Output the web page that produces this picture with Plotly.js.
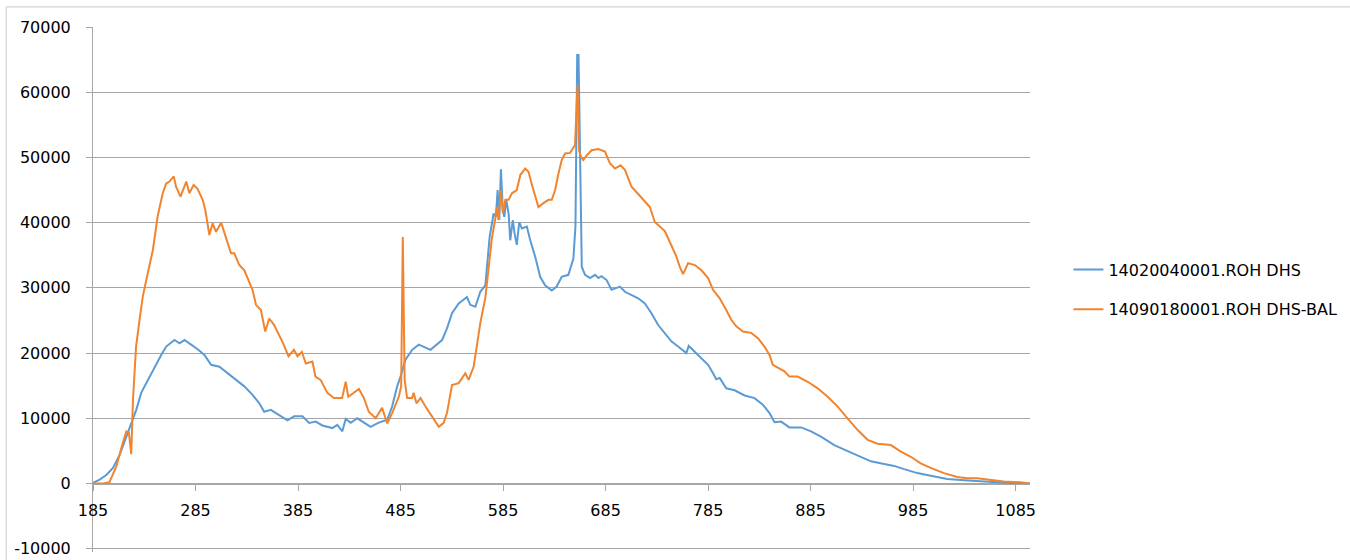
<!DOCTYPE html>
<html>
<head>
<meta charset="utf-8">
<script src="https://cdn.plot.ly/plotly-3.0.1.min.js"></script>
<style>html,body{margin:0;padding:0;background:#fff;}#chart{width:1350px;height:560px;}</style>
</head>
<body>
<div id="chart"></div>
<script>
// Series 1: 14020040001.ROH DHS (blue)
var blueX = [185,191.5,198,204.5,211,217.5,222.4,227.2,232,237,241.8,246.7,251.5,256.4,264.5,269.3,274.2,280.7,287.1,293.7,300.2,308.3,316.3,324.5,332.6,340.6,347.2,352,358.5,366.6,374.7,381.2,389.3,395.8,402.3,408.7,418.5,423.3,428.2,431.5,436.4,442.8,449.3,455.8,463.2,472,476.8,481.7,485,489.8,496.3,502.8,514.2,520.6,525.5,530.3,535.2,541.7,549.8,553,558,562.8,567.7,571.9,575.8,578,579.7,581.3,582.9,584.8,586.2,588.1,590.4,592,594.5,596.2,598.4,600.8,603.3,608.2,611.5,616.3,621.2,626,632.5,637.3,642.2,648.7,653.6,655.6,657.3,658.6,660.4,661.8,665,669.8,674.7,678,681,686,690.8,699,703.9,710.3,716.8,723.3,729.7,736.3,742.8,749.2,755.7,763.8,766.1,772,778.5,785,789.8,793,796.3,802.7,810.9,820.6,830.3,838.4,844.9,849.8,856.2,864.3,875.7,885.4,895.1,908.1,917.9,930.9,943.8,956.8,966.5,976.2,989.1,1002.1,1018.3,1034.6,1054,1073.5,1087,1099];
var blueY = [100,600,1300,2400,4400,7200,9300,11300,13900,15400,16900,18500,19700,21000,22000,21500,22000,21300,20600,19700,18200,17900,16900,15900,14900,13600,12300,11000,11300,10500,9700,10300,10300,9300,9500,8900,8500,9000,8000,9900,9300,10000,9400,8700,9300,9800,11800,14900,16400,19000,20500,21300,20500,21400,22000,23800,26100,27600,28600,27400,27100,29400,30400,37800,41400,40900,45000,40400,48200,41900,40900,43500,41400,37300,40400,38400,36600,40100,39100,39400,37300,34800,31700,30400,29600,30200,31700,32000,34500,39400,65700,65700,45500,33200,32000,31500,32000,31500,31800,31200,29700,30200,29400,28900,28400,27600,26100,24300,23000,21800,21000,20000,21100,20200,19200,18200,16900,16000,16200,14600,14300,13500,13100,12100,10800,9400,9500,8600,8600,8000,7200,5900,5200,4300,3400,3000,2700,2200,1600,1200,700,500,300,100,0,0];

// Series 2: 14090180001.ROH DHS-BAL (orange)
var orangeX = [185,195,201,207.7,214,217.5,220,222.3,224,227,230.4,233.6,237,240,243.4,248,253,256.4,259.6,263.8,266,270.3,276,279,283.2,287,292,294.6,298.5,301.7,305,310,314.8,319.6,322.8,327.7,332.6,337.4,340.6,344,348.8,353,356.9,361.7,366.6,370.5,375.7,381,384.5,388.7,392.6,399,402,407,413.6,420,428,431.5,434,439.6,444.4,449.3,454,460.7,467,472,476.8,483.3,485.6,487.2,489,491.4,496.2,497.8,500.5,504.5,509.3,515.7,522.3,527,530.3,535.2,541.7,548.2,551.4,556.3,559.5,562.8,567.7,570.9,574.1,577.4,579,580.6,582.9,584.8,587.2,590.4,593.6,598.4,601.8,606.6,609.8,613.7,617,619.5,624.4,629.3,632.5,635.8,639,642.2,645.5,650.4,655.2,657.6,659.2,661,663.3,666.5,671.4,677.9,684.4,689.2,694.1,699.6,703.9,710.3,716.8,723.3,728.2,733,737.9,742.8,749.2,754.1,757.4,760.6,765.5,772,778.5,785,789.8,796.3,802.7,807.6,812.5,819,827,833.6,840,844.9,848.1,853,859.5,864.3,872.4,882.2,891.9,901.6,911.4,921,930.9,940.6,950.3,963.3,973,982.7,992.4,1002.1,1015.1,1028,1037.8,1047.5,1060.5,1073.5,1089.6,1099];
var orangeY = [0,0,200,2600,6200,8000,7800,4500,12800,21000,25100,28700,31200,33200,35800,40900,44500,46000,46300,47100,45500,44000,46300,44500,45800,45200,43500,41900,38100,39900,38600,40000,37800,35300,35300,33500,32700,30900,29700,27400,26600,23300,25300,24300,22800,21500,19500,20500,19500,20200,18400,18700,16400,15900,13900,13100,13100,15600,13300,13900,14500,13100,11000,10000,11600,9200,10800,13300,14900,37800,15900,13100,13100,13900,12300,13100,11800,10300,8700,9300,10800,15100,15400,16900,15900,17900,21000,24600,28500,33000,37600,40600,42400,40400,45000,41400,43500,43500,44500,45000,47300,48300,47800,45500,43500,42400,43000,43500,43500,45000,47500,49600,50600,50700,51900,61100,51000,50100,49600,50300,51100,51300,50900,49100,48300,48800,48100,45500,44400,43300,42400,40100,39400,38700,36500,34800,33200,32100,33800,33500,32700,31500,29700,28400,26600,25100,24100,23300,23100,22300,21000,19700,18200,17800,17200,16400,16400,15600,14600,13300,11800,10000,8200,6700,6100,5900,4900,4100,3100,2400,1600,1000,800,800,500,300,200,0];

var seriesNames = ['14020040001.ROH DHS', '14090180001.ROH DHS-BAL'];
var xTickVals = [185,285,385,485,585,685,785,885,985,1085];
var xTickText = ['185','285','385','485','585','685','785','885','985','1085'];
var yTickVals = [-10000,0,10000,20000,30000,40000,50000,60000,70000];
var yTickText = ['-10000','0','10000','20000','30000','40000','50000','60000','70000'];

var traces = [
  {x: blueX, y: blueY, type: 'scatter', mode: 'lines', name: seriesNames[0], legendgroup: 'a',
   line: {color: '#5B9BD5', width: 2}},
  {x: orangeX, y: orangeY, type: 'scatter', mode: 'lines', name: seriesNames[1], legendgroup: 'b',
   line: {color: '#F0842F', width: 2}}
];

var layout = {
  width: 1350, height: 560,
  paper_bgcolor: '#ffffff', plot_bgcolor: '#ffffff',
  margin: {l: 93, r: 317, t: 27, b: 8, pad: 0},
  font: {family: 'DejaVu Sans', size: 16, color: '#000000'},
  showlegend: true,
  legend: {x: 1.041, xanchor: 'left', y: 0.5, yanchor: 'middle', traceorder: 'grouped',
           tracegroupgap: 16, font: {family: 'DejaVu Sans', size: 16, color: '#000'},
           bgcolor: 'rgba(0,0,0,0)'},
  xaxis: {range: [185, 1099], tickmode: 'array', tickvals: xTickVals, ticktext: xTickText,
          showgrid: false, zeroline: false, showline: true, linecolor: '#a6a6a6', linewidth: 1,
          ticks: 'outside', ticklen: 6, tickcolor: '#a6a6a6', anchor: 'free', position: 0.1304,
          ticklabelstandoff: 6, tickfont: {size: 16}},
  yaxis: {range: [-10500, 70000], tickmode: 'array', tickvals: yTickVals, ticktext: yTickText,
          showgrid: true, gridcolor: '#a6a6a6', gridwidth: 1, zeroline: false,
          showline: true, linecolor: '#a6a6a6', linewidth: 1,
          ticks: 'outside', ticklen: 6, tickcolor: '#a6a6a6', ticklabelstandoff: 12,
          tickfont: {size: 16}},
  shapes: [
    {type: 'rect', xref: 'paper', yref: 'paper', x0: -0.0926, x1: 1.6, y0: -0.2, y1: 1.0383,
     line: {color: '#c8c8c8', width: 1}, fillcolor: 'rgba(0,0,0,0)', layer: 'below'}
  ]
};

Plotly.newPlot('chart', traces, layout, {displayModeBar: false, staticPlot: true});
</script>
</body>
</html>
